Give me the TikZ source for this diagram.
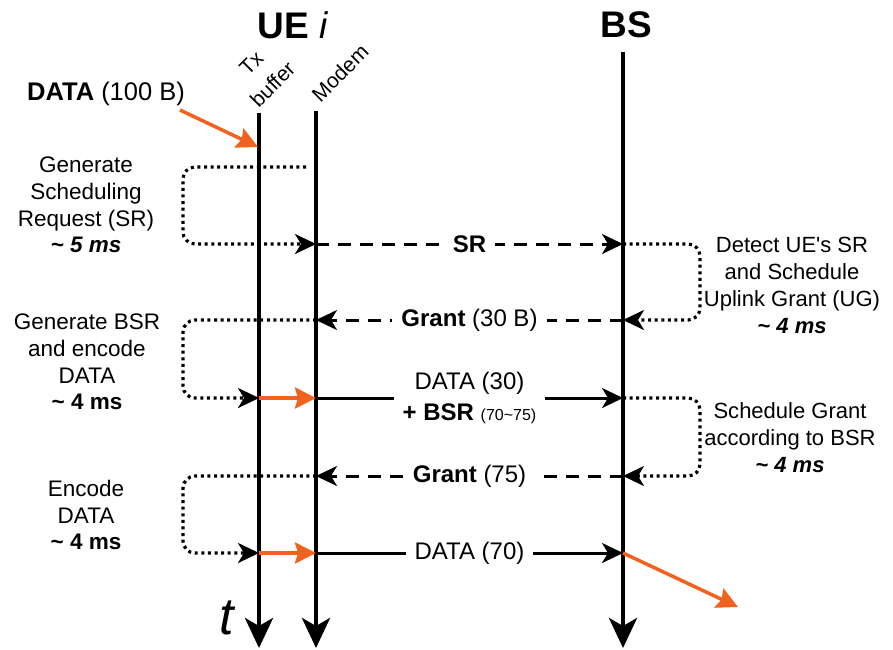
\documentclass[tikz,border=0pt]{standalone}
\usepackage{fontspec}
\setmainfont{Liberation Sans}
\newfontfamily\aposfont{Liberation Sans}[Ligatures=TeXOff]
\usetikzlibrary{arrows.meta}
\definecolor{dataorange}{RGB}{240,98,30}
\begin{document}
\begin{tikzpicture}[x=1pt,y=-1pt,
  lifeline/.style={line width=4.5pt,-{Stealth[length=30pt,width=28pt,inset=8pt]}},
  msg/.style={line width=3pt,-{Stealth[length=21pt,width=20pt,inset=6pt]}},
  dashmsg/.style={msg,dash pattern=on 13pt off 9pt},
  dotloop/.style={line width=3.2pt,dash pattern=on 3pt off 3.6pt,rounded corners=12pt,
    -{Stealth[length=21pt,width=20pt,inset=6pt]}},
  hotarrow/.style={line width=3.5pt,color=dataorange,-{Stealth[length=21pt,width=21pt,inset=3pt]}},
  lbl/.style={fill=white,inner xsep=9pt,inner ysep=1pt,font=\fontsize{24}{31}\selectfont},
  sidelbl/.style={align=center,font=\fontsize{22.5}{26.8}\selectfont},
  header/.style={font=\fontsize{37}{40}\selectfont},
  colname/.style={rotate=45,align=center,font=\fontsize{21}{30}\selectfont}
]
\useasboundingbox (0,0) rectangle (893,649);

% headers
\node[header] (ue) at (293,25) {\textbf{UE} \textit{i}};
\node[header] (bs) at (626,25) {\textbf{BS}};
\node[colname] (txname) at (262,74) {Tx\\buffer};
\node[colname] (mdname) at (340,73) {Modem};
\node[font=\fontsize{25.5}{28}\selectfont] (indata) at (106,94) {\textbf{DATA} (100 B)};
\node[font=\fontsize{52}{52}\selectfont] (time) at (228,618) {\textit{t}};

% lifeline anchors
\coordinate (txTop) at (259,113);  \coordinate (txEnd) at (259,648);
\coordinate (mdTop) at (316,111);  \coordinate (mdEnd) at (316,648);
\coordinate (bsTop) at (623,52);   \coordinate (bsEnd) at (623,648);
\coordinate (loopL) at (183,0);    \coordinate (loopR) at (700,0);

% event points
\coordinate (srStart) at (306,167);
\coordinate (md-sr) at (316,244);  \coordinate (bs-sr) at (623,244);
\coordinate (md-g1) at (316,320);  \coordinate (bs-g1) at (623,320);
\coordinate (tx-d1) at (259,398);  \coordinate (md-d1) at (316,398); \coordinate (bs-d1) at (623,398);
\coordinate (md-g2) at (316,476);  \coordinate (bs-g2) at (623,476);
\coordinate (tx-d2) at (259,553);  \coordinate (md-d2) at (316,553); \coordinate (bs-d2) at (623,553);
\coordinate (inStart) at (180,110); \coordinate (tx-in) at (258,147);
\coordinate (outEnd) at (738,607);

% lifelines
\draw[lifeline] (txTop) -- (txEnd);
\draw[lifeline] (mdTop) -- (mdEnd);
\draw[lifeline] (bsTop) -- (bsEnd);

% incoming and outgoing data
\draw[hotarrow] (inStart) -- (tx-in);
\draw[hotarrow] (bs-d2) -- (outEnd);

% UE processing loops
\draw[dotloop] (srStart) -- (srStart -| loopL) -- (md-sr -| loopL) -- (md-sr);
\draw[dotloop] (md-g1) -- (md-g1 -| loopL) -- (tx-d1 -| loopL) -- (tx-d1);
\draw[dotloop] (md-g2) -- (md-g2 -| loopL) -- (tx-d2 -| loopL) -- (tx-d2);

% BS processing loops
\draw[dotloop] (bs-sr) -- (bs-sr -| loopR) -- (bs-g1 -| loopR) -- (bs-g1);
\draw[dotloop] (bs-d1) -- (bs-d1 -| loopR) -- (bs-g2 -| loopR) -- (bs-g2);

% buffer to modem
\draw[hotarrow] (tx-d1) -- (md-d1);
\draw[hotarrow] (tx-d2) -- (md-d2);

% messages
\draw[dashmsg] (md-sr) -- node[lbl] (srlbl) {\textbf{SR}} (bs-sr);
\draw[dashmsg] (bs-g1) -- node[lbl] (g1lbl) {\textbf{Grant} (30 B)} (md-g1);
\draw[msg] (md-d1) -- node[lbl,align=center] (d1lbl)
  {DATA (30)\\\textbf{+ BSR} {\fontsize{16}{16}\selectfont(70\textasciitilde75)}} (bs-d1);
\draw[dashmsg] (bs-g2) -- node[lbl] (g2lbl) {\textbf{Grant} (75)} (md-g2);
\draw[msg] (md-d2) -- node[lbl] (d2lbl) {DATA (70)} (bs-d2);

% side descriptions
\node[sidelbl] (srdesc) at (86,205)
  {Generate\\Scheduling\\Request (SR)\\\textbf{\textit{\textasciitilde\ 5 ms}}};
\node[sidelbl] (bsrdesc) at (87,362)
  {Generate BSR\\and encode\\DATA\\\textbf{\textasciitilde\ 4 ms}};
\node[sidelbl] (encdesc) at (86,515)
  {Encode\\DATA\\\textbf{\textasciitilde\ 4 ms}};
\node[sidelbl,font=\fontsize{22}{27}\selectfont] (ugdesc) at (792,285)
  {Detect UE{\aposfont'}s SR\\and Schedule\\Uplink Grant (UG)\\\textbf{\textit{\textasciitilde\ 4 ms}}};
\node[sidelbl,font=\fontsize{22}{27}\selectfont] (g2desc) at (790,438)
  {Schedule Grant\\according to BSR\\\textbf{\textit{\textasciitilde\ 4 ms}}};
\end{tikzpicture}
\end{document}
